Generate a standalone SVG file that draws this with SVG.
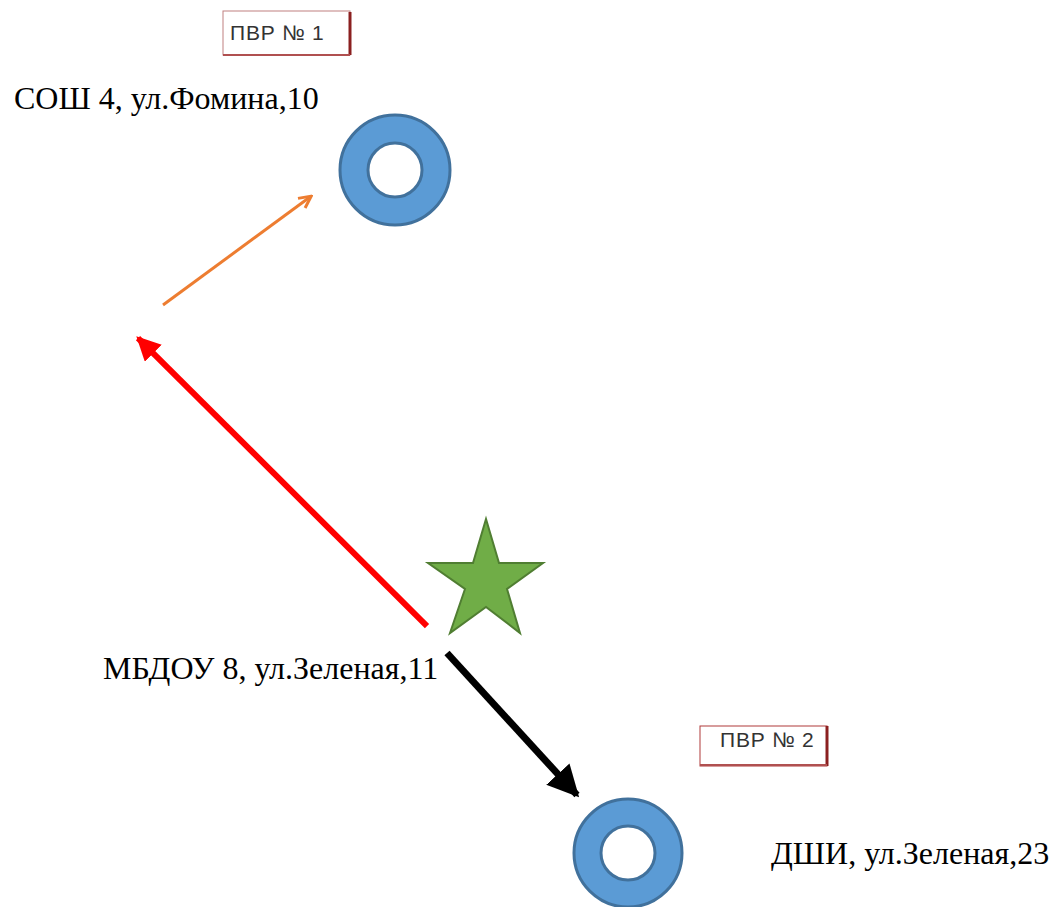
<svg xmlns="http://www.w3.org/2000/svg" width="1056" height="907" viewBox="0 0 1056 907">
<style>
.lbl{font-family:"Liberation Serif","Times New Roman",serif;font-size:32px;fill:#000}
.tag{font-family:"Liberation Sans",Arial,sans-serif;font-size:21px;fill:#333;letter-spacing:0.8px}
.donut{fill:#5b9bd5;stroke:#41719c;stroke-width:3;fill-rule:evenodd}
</style>
<defs>
<marker id="mo" viewBox="0 0 10 10" refX="8" refY="5" markerWidth="5" markerHeight="5" orient="auto" markerUnits="strokeWidth"><path d="M1,1 L9,5 L1,9" fill="none" stroke="#ed7d31" stroke-width="2"/></marker>
<marker id="mr" viewBox="0 0 10 10" refX="9" refY="5" markerWidth="4" markerHeight="4" orient="auto" markerUnits="strokeWidth"><path d="M0,0 L10,5 L0,10 z" fill="#f00"/></marker>
<marker id="mk" viewBox="0 0 10 10" refX="9" refY="5" markerWidth="4.5" markerHeight="4.5" orient="auto" markerUnits="strokeWidth"><path d="M0,0 L10,5 L0,10 z" fill="#000"/></marker>
</defs>
<rect width="1056" height="907" fill="#fff"/>
<g id="tag1">
<rect x="223" y="11" width="127" height="44" fill="#fff" stroke="#c08080" stroke-width="1"/>
<line x1="350" y1="12" x2="350" y2="55" stroke="#8b2020" stroke-width="3"/>
<line x1="223" y1="55" x2="350" y2="55" stroke="#b05050" stroke-width="2"/>
<text class="tag" x="230" y="40">ПВР № 1</text>
</g>
<g id="tag2">
<rect x="700" y="726" width="127" height="40" fill="#fff" stroke="#b03a3a" stroke-width="1"/>
<line x1="827" y1="726" x2="827" y2="766" stroke="#8b2020" stroke-width="3"/>
<line x1="700" y1="765" x2="827" y2="765" stroke="#b05050" stroke-width="2"/>
<text class="tag" x="720" y="747">ПВР № 2</text>
</g>
<g id="school">
<path class="donut" d="M340,170 a55,55 0 1,0 110,0 a55,55 0 1,0 -110,0 z M368,170 a27,27 0 1,0 54,0 a27,27 0 1,0 -54,0 z"/>
<text class="lbl" x="14" y="109">СОШ 4, ул.Фомина,10</text>
</g>
<g id="dshi">
<path class="donut" d="M574,853 a54,54 0 1,0 108,0 a54,54 0 1,0 -108,0 z M601,853 a27,27 0 1,0 54,0 a27,27 0 1,0 -54,0 z"/>
<text class="lbl" x="771" y="864">ДШИ, ул.Зеленая,23</text>
</g>
<g id="mbdou">
<polygon points="486,519 499,563 543,563 507,589 520,633 486,607 450,633 465,589 428,563 473,563" fill="#70ad47" stroke="#507e32" stroke-width="2" stroke-linejoin="miter"/>
<text class="lbl" x="103" y="679">МБДОУ 8, ул.Зеленая,11</text>
</g>
<g id="connectors">
<line x1="163" y1="305" x2="310" y2="197" stroke="#ed7d31" stroke-width="3" marker-end="url(#mo)"/>
<line x1="427" y1="626" x2="138" y2="338" stroke="#f00" stroke-width="6" marker-end="url(#mr)"/>
<line x1="447" y1="653" x2="577" y2="795" stroke="#000" stroke-width="7" marker-end="url(#mk)"/>
</g>
</svg>
